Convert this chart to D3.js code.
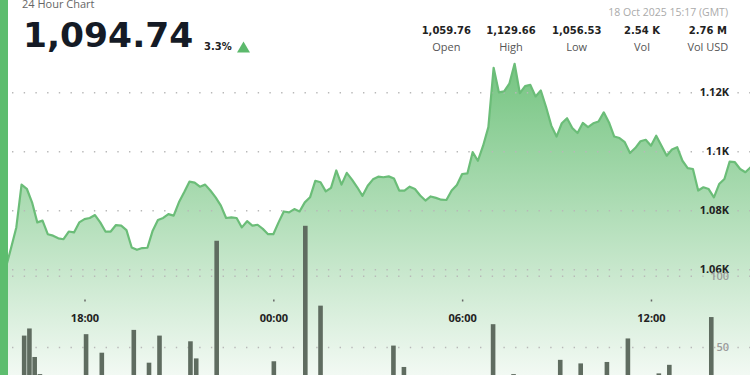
<!DOCTYPE html>
<html>
<head>
	<title>24 Hour Chart</title>
	<script src="https://d3js.org/d3.v7.min.js"></script>
	<style>
		body { margin: 0; background: #fff; }
		svg { display: block; overflow: hidden; }
	</style>
</head>
<body>
	<div id="chart"></div>

	<script>
		// Price every 10 minutes from 17 Oct 15:20 (GMT), last tick at 18 Oct 15:17
		const priceStart = Date.UTC(2025, 9, 17, 15, 20);
		const prices = [
			1057.2, 1060.5, 1067.2, 1074.2, 1088.7, 1087.3, 1082.7, 1075.9, 1076.5, 1071.9,
			1071.4, 1070.5, 1070.2, 1072.8, 1072.5, 1075.9, 1077.0, 1077.4, 1078.4, 1075.9,
			1072.8, 1072.8, 1075.0, 1074.8, 1073.3, 1067.4, 1066.6, 1067.2, 1067.3, 1073.1,
			1076.7, 1077.4, 1078.7, 1078.2, 1082.7, 1086.1, 1089.7, 1089.4, 1088.0, 1088.7,
			1086.7, 1084.4, 1081.6, 1077.4, 1077.6, 1077.4, 1074.2, 1076.3, 1074.8, 1075.1,
			1073.7, 1071.9, 1071.9, 1075.9, 1079.6, 1079.3, 1080.4, 1079.6, 1082.7, 1084.4,
			1090.0, 1089.5, 1086.4, 1087.6, 1093.5, 1088.7, 1092.7, 1090.4, 1087.8, 1084.9,
			1088.3, 1090.5, 1091.4, 1091.2, 1091.5, 1090.8, 1086.7, 1086.7, 1088.0, 1087.2,
			1085.0, 1083.3, 1084.7, 1084.2, 1083.6, 1083.5, 1086.7, 1088.6, 1092.3, 1092.5,
			1099.7, 1096.8, 1101.9, 1108.2, 1128.3, 1120.0, 1120.3, 1122.9, 1129.66, 1119.7,
			1122.1, 1122.5, 1118.6, 1120.6, 1115.0, 1108.7, 1105.0, 1109.5, 1111.2, 1107.9,
			1106.2, 1109.6, 1108.2, 1109.5, 1110.1, 1113.2, 1109.8, 1105.0, 1104.5, 1103.1,
			1099.4, 1101.1, 1103.4, 1103.9, 1101.9, 1105.3, 1101.9, 1098.5, 1100.6, 1101.4,
			1096.8, 1094.3, 1094.0, 1086.7, 1087.8, 1087.2, 1084.4, 1088.9, 1090.6, 1096.5,
			1096.3, 1094.0, 1092.9, 1094.6
		];
		const lastTime = "2025-10-18T15:17Z";
		const lastPrice = 1094.74;

		// Volume bars (only the taller ones reach into view)
		const volTimes = [
			"2025-10-17T16:05Z", "2025-10-17T16:15Z", "2025-10-17T16:25Z", "2025-10-17T16:35Z",
			"2025-10-17T18:03Z", "2025-10-17T18:33Z", "2025-10-17T19:34Z", "2025-10-17T20:03Z",
			"2025-10-17T20:23Z", "2025-10-17T21:22Z", "2025-10-17T21:33Z", "2025-10-17T22:12Z",
			"2025-10-18T00:01Z", "2025-10-18T01:01Z", "2025-10-18T01:30Z", "2025-10-18T03:49Z",
			"2025-10-18T04:09Z", "2025-10-18T06:59Z", "2025-10-18T07:38Z", "2025-10-18T09:07Z",
			"2025-10-18T09:46Z", "2025-10-18T10:36Z", "2025-10-18T11:16Z", "2025-10-18T12:15Z",
			"2025-10-18T12:35Z", "2025-10-18T13:55Z"
		];
		const volumes = [
			58, 63, 43, 31, 59, 46, 62, 39, 58, 54, 42, 124.5,
			40, 135, 79, 51, 36, 66, 31, 41, 38.5, 39.5, 56, 31.5, 37.5, 71
		];

		const priceTicks = [1060, 1080, 1100, 1120];
		const volTicks = [50, 100];

		const stats = [
			{ value: "1,059.76", label: "Open" },
			{ value: "1,129.66", label: "High" },
			{ value: "1,056.53", label: "Low" },
			{ value: "2.54 K", label: "Vol" },
			{ value: "2.76 M", label: "Vol USD" }
		];

		const W = 750, H = 375;

		const svg = d3.select("#chart")
			.append("svg")
			.attr("width", W)
			.attr("height", H);

		const series = prices.map((p, i) => ({ t: new Date(priceStart + i * 600000), p }));
		series.push({ t: new Date(lastTime), p: lastPrice });
		const bars = volTimes.map((t, i) => ({ t: new Date(t), v: volumes[i] }));

		// Scales
		const x = d3.scaleUtc()
			.domain([new Date("2025-10-17T15:17Z"), new Date("2025-10-18T15:17Z")])
			.range([-1, 754.3]);
		const y = d3.scaleLinear()
			.domain([1060, 1120])
			.range([269.3, 92.3]);
		const yVol = d3.scaleLinear()
			.domain([0, 100])
			.range([418.3, 275.7]);

		// Gradient for the area
		const defs = svg.append("defs");
		const grad = defs.append("linearGradient")
			.attr("id", "areaFill")
			.attr("gradientUnits", "userSpaceOnUse")
			.attr("x1", 0).attr("x2", 0)
			.attr("y1", 62).attr("y2", 380);
		grad.append("stop").attr("offset", "0%").attr("stop-color", "rgb(116,196,128)");
		grad.append("stop").attr("offset", "100%").attr("stop-color", "rgb(244,250,245)");

		// Area + line
		const area = d3.area()
			.x(d => x(d.t))
			.y0(yVol(0))
			.y1(d => y(d.p));
		const line = d3.line()
			.x(d => x(d.t))
			.y(d => y(d.p));

		svg.append("path")
			.datum(series)
			.attr("d", area)
			.attr("fill", "url(#areaFill)");

		// Dotted gridlines
		function grid(scale, ticks) {
			const g = svg.append("g")
				.attr("transform", "translate(12,0)")
				.call(d3.axisRight(scale).tickValues(ticks).tickSize(738).tickFormat(""));
			g.select(".domain").remove();
			g.selectAll("line")
				.attr("stroke", "#b8b8b8")
				.attr("stroke-width", 1.4)
				.attr("stroke-dasharray", "1.4 10.3");
		}
		grid(y, priceTicks);
		grid(yVol, volTicks);

		svg.append("path")
			.datum(series)
			.attr("d", line)
			.attr("fill", "none")
			.attr("stroke", "#6bbd78")
			.attr("stroke-width", 2.2)
			.attr("stroke-linejoin", "round");

		// Volume bars
		svg.selectAll(".bar")
			.data(bars)
			.enter()
			.append("rect")
			.attr("class", "bar")
			.attr("x", d => x(d.t) - 2.3)
			.attr("y", d => yVol(d.v))
			.attr("width", 4.6)
			.attr("height", d => yVol(0) - yVol(d.v))
			.attr("fill", "#5f6c60");

		// Axis labels
		const priceAxis = svg.append("g")
			.attr("transform", "translate(729,0)")
			.call(d3.axisLeft(y).tickValues(priceTicks).tickSize(0).tickPadding(0)
				.tickFormat(d => (d / 1000) + "K"));
		priceAxis.select(".domain").remove();
		priceAxis.selectAll("text")
			.attr("font-family", "'Open Sans'")
			.attr("font-size", 11)
			.attr("font-weight", 700)
			.attr("fill", "#222");

		const volAxis = svg.append("g")
			.attr("transform", "translate(729,0)")
			.call(d3.axisLeft(yVol).tickValues(volTicks).tickSize(0).tickPadding(0));
		volAxis.select(".domain").remove();
		volAxis.selectAll("text")
			.attr("font-family", "'Open Sans'")
			.attr("font-size", 11)
			.attr("font-weight", 600)
			.attr("fill", "#9b9b9b");

		const timeAxis = svg.append("g")
			.attr("transform", "translate(0,299.5)")
			.call(d3.axisBottom(x).ticks(d3.utcHour.every(6)).tickSize(2).tickPadding(13)
				.tickFormat(d3.utcFormat("%H:%M")));
		timeAxis.select(".domain").remove();
		timeAxis.selectAll("line").attr("stroke", "#666").attr("stroke-width", 1.5);
		timeAxis.selectAll("text")
			.attr("font-family", "'Open Sans'")
			.attr("font-size", 11)
			.attr("font-weight", 700)
			.attr("fill", "#222");

		// Header
		svg.append("text")
			.attr("x", 22).attr("y", 7.5)
			.attr("font-family", "'Open Sans'")
			.attr("font-size", 11)
			.attr("fill", "#666")
			.text("24 Hour Chart");

		svg.append("text")
			.attr("x", 23).attr("y", 47)
			.attr("font-family", "'DejaVu Sans'")
			.attr("font-size", 34.5)
			.attr("font-weight", 700)
			.attr("fill", "#151b26")
			.text(d3.format(",.2f")(lastPrice));

		svg.append("text")
			.attr("x", 204).attr("y", 50)
			.attr("font-family", "'DejaVu Sans'")
			.attr("font-size", 10)
			.attr("font-weight", 700)
			.attr("fill", "#222")
			.text("3.3%");

		svg.append("path")
			.attr("d", "M237,52.5 L243.5,41.5 L250,52.5 Z")
			.attr("fill", "#5cb96c");

		svg.append("text")
			.attr("x", 728).attr("y", 16)
			.attr("text-anchor", "end")
			.attr("font-family", "'Open Sans'")
			.attr("font-size", 10.5)
			.attr("fill", "#aaa")
			.text("18 Oct 2025 15:17 (GMT)");

		const cols = [446.3, 511, 576.7, 642, 707.8];
		const statG = svg.selectAll(".stat")
			.data(stats)
			.enter()
			.append("g")
			.attr("class", "stat")
			.attr("transform", (d, i) => `translate(${cols[i]},0)`);
		statG.append("text")
			.attr("y", 34.3)
			.attr("text-anchor", "middle")
			.attr("font-family", "'DejaVu Sans'")
			.attr("font-size", 10)
			.attr("font-weight", 700)
			.attr("fill", "#222")
			.text(d => d.value);
		statG.append("text")
			.attr("y", 50.5)
			.attr("text-anchor", "middle")
			.attr("font-family", "'Open Sans'")
			.attr("font-size", 11)
			.attr("fill", "#555")
			.text(d => d.label);

		// Left accent bar
		svg.append("rect")
			.attr("x", 0).attr("y", 0)
			.attr("width", 8).attr("height", H)
			.attr("fill", "#5dbd6e");
	</script>
</body>
</html>
